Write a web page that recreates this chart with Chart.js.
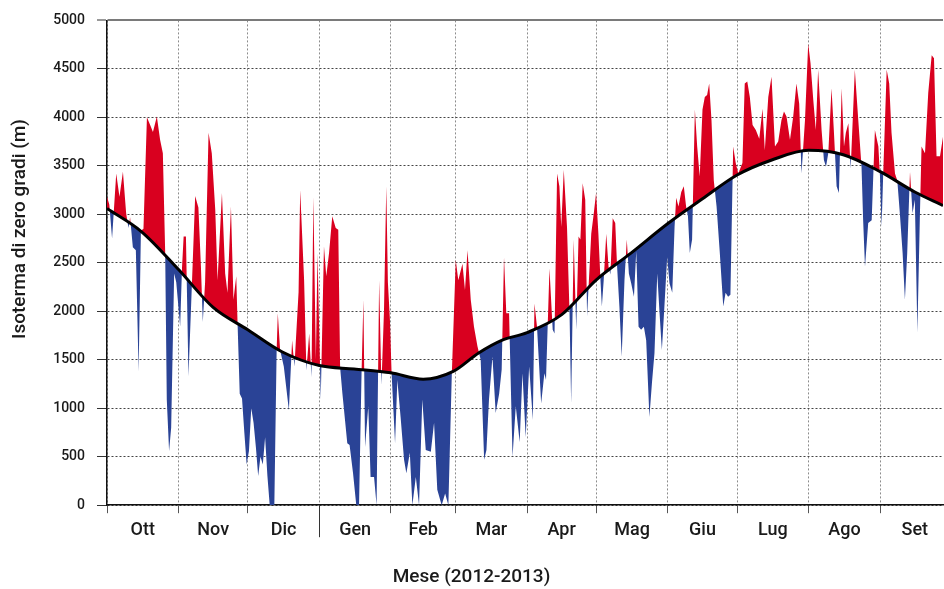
<!DOCTYPE html>
<html>
<head>
<meta charset="utf-8">
<script src="https://cdn.jsdelivr.net/npm/chart.js@4.4.0/dist/chart.umd.min.js"></script>
<style>
html, body { margin: 0; padding: 0; background: #fff; }
</style>
</head>
<body>
<canvas id="myChart" width="944" height="589"></canvas>
<script>
// month ticks (day index from 1 Oct 2012)
const monthLabels = ['Ott', 'Nov', 'Dic', 'Gen', 'Feb', 'Mar', 'Apr', 'Mag', 'Giu', 'Lug', 'Ago', 'Set'];
const monthStart = [0, 31, 61, 92, 123, 151, 182, 212, 243, 273, 304, 335];
const yearEnd = 365;
const yearStart = 92; // 1 Gen 2013
const dayMax = 362.2; // picture is cut before 30 Set

// climatological zero-degree isotherm (black line)
const normDays = [0, 15, 31, 46, 61, 76, 92, 107, 123, 137, 150, 161, 171, 182, 197, 212, 227, 243, 258, 273, 288, 304, 319, 335, 350, 362.2];
const normValues = [3060, 2820, 2430, 2040, 1810, 1580, 1440, 1405, 1365, 1300, 1380, 1570, 1700, 1780, 1965, 2325, 2600, 2905, 3160, 3405, 3560, 3660, 3615, 3440, 3230, 3090];

// daily isotherm 2012-2013
const obsDays = [
  0, 1, 2.2, 3, 4, 5.4, 6.9, 8.3, 9.3, 10, 11.2, 12.5, 13.7, 14.7, 15.8, 17.3, 18.7, 19.9, 21.6, 23, 24.2, 25.2, 25.9, 26.9, 27.8, 29.1, 30,
  31.7, 32.5, 33.2, 34.2, 35.3, 36.8, 38.2, 39.6, 40.7, 41.5, 42.5, 44, 45.4, 46.9, 47.9, 49.8, 51.2, 52.2, 53.7, 54.8, 56, 56.6, 57.5, 58.5, 59.5,
  60.5, 61.5, 62.5, 63.5, 64.5, 65.5, 66.5, 67.5, 68.5, 69.5, 70.5, 71.5, 72.5, 73.5, 74, 75, 76.6, 78.8, 80.2, 81.2, 83, 83.7, 85.4, 86.4, 87.6, 88.6, 89.4, 90.5, 91.2,
  92.6, 94, 95, 96.2, 97.6, 99.1, 100.2, 101, 102, 104.1, 105.1, 106.6, 108, 109.2, 110.3, 111.1, 111.8, 113.2, 114.2, 115.7, 116.8, 117.9, 118.9, 120, 121, 121.7, 122.6,
  123.3, 124.8, 125.8, 127.2, 128.7, 129.7, 131.2, 132.3, 133.8, 135.2, 136.6, 138.1, 140.3, 141.7, 143.1, 145, 146.5, 147.9, 149.4,
  151.1, 152.2, 154, 155.1, 156.2, 157.6, 159, 160.5, 161.9, 163.4, 164.4, 165.5, 167, 168.4, 169.9, 171, 172, 173, 174.2, 175.7, 177.1, 178.8, 180, 181.4,
  182.9, 184.5, 185.2, 186.3, 188.1, 189.5, 190.2, 191.7, 193.1, 193.9, 195, 196, 196.8, 197.9, 199.3, 200.4, 201.1, 202.2, 203.3, 204.3, 205.1, 206.1, 207.2, 208, 209.8, 210.9, 211.9,
  212.9, 213.8, 214.4, 215.2, 216.3, 217.3, 218.1, 219.1, 220.2, 221, 222, 223, 224.2, 225.2, 226.1, 227.1, 228.3, 229.3, 230.3, 231.4, 232.6, 233.6, 235, 236.1, 237.2, 238.4, 239.4, 240.4, 241.5, 242.7,
  243.7, 244.9, 245.9, 246.6, 247.6, 248.8, 249.9, 250.9, 251.7, 252.5, 253.5, 254.7, 255.7, 256.8, 258, 259, 260, 260.9, 261.9, 262.9, 264.1, 265.5, 267, 268, 269.1, 270.1, 271.3, 272.4,
  273.5, 275.3, 276.3, 277.4, 278.5, 279.7, 281.1, 282.6, 284, 285, 286.5, 287.9, 289.4, 290.8, 292.2, 293.3, 294.4, 295.9, 297.3, 298.7, 299.9, 300.9, 302.4, 303.8,
  304.8, 306, 307.1, 308.1, 309.6, 310.6, 311.5, 312.5, 313.9, 314.9, 316.1, 317.1, 318.3, 319.3, 320.1, 321.2, 322.2, 324, 325.5, 326.9, 327.6, 328.4, 329.8, 331.3, 332.7, 334.2, 334.9,
  335.6, 336.3, 337.8, 338.9, 339.9, 341.4, 342.4, 343.5, 344.7, 345.7, 346.7, 347.9, 349, 350, 351.1, 352.2, 352.9, 354.4, 355.8, 357.3, 358.3, 359.4, 360.9, 362.2
];
const obsValues = [
  3180, 3100, 2750, 3050, 3420, 3180, 3440, 3010, 2860, 2970, 2660, 2630, 1380, 2830, 2850, 4000, 3920, 3850, 4010, 3770, 3630, 2620, 1090, 560, 800, 2390, 2300,
  1840, 2450, 2770, 2770, 1330, 2290, 3190, 3070, 2460, 1890, 2300, 3840, 3630, 3050, 2320, 3220, 2390, 2190, 3080, 2120, 2360, 1850, 1150, 1100, 750,
  420, 560, 1000, 850, 600, 300, 500, 420, 700, 300, 0, 0, 0, 1600, 1980, 1600, 1430, 980, 1700, 1430, 2200, 3250, 2320, 1390, 1770, 1320, 3180, 1500, 2600,
  1090, 2670, 2360, 2600, 2980, 2860, 2840, 1420, 1150, 640, 620, 330, 0, 0, 1380, 2120, 600, 1020, 290, 290, 0, 2320, 1240, 2000, 3290, 2300, 1900,
  1360, 640, 1290, 910, 470, 330, 540, 0, 290, 0, 1090, 570, 550, 850, 160, 0, 120, 0, 1360,
  2530, 2320, 2490, 2220, 2630, 2120, 1840, 1640, 1500, 470, 570, 1090, 1530, 950, 1150, 1400, 2560, 1980, 1980, 500, 1020, 650, 1360, 700,
  1430, 880, 2080, 1840, 1050, 1360, 1290, 2440, 1810, 1770, 3420, 3290, 2870, 3460, 2870, 1980, 1050, 2740, 1810, 2770, 2740, 3320, 3150, 1950, 2800, 3010, 3220,
  2800, 2320, 2050, 2320, 2800, 2460, 2380, 2960, 2910, 2460, 2050, 1530, 2320, 2740, 2390, 2290, 2150, 2620, 1840, 1810, 1840, 1700, 910, 1260, 1570, 2390, 1980, 1600, 2050, 2560,
  2290, 2190, 2870, 3170, 3080, 3230, 3290, 3080, 2980, 2600, 2740, 4080, 3700, 3390, 4080, 4210, 4230, 4350, 3970, 3350, 3080, 2600, 2050, 2190, 2150, 2170, 3700, 3530,
  3420, 3530, 4350, 4370, 4210, 3920, 3870, 3780, 4090, 3660, 4210, 4420, 3700, 3750, 3970, 4060, 4010, 3770, 4010, 4350, 4140, 3420, 3970, 4760,
  4560, 4180, 3870, 4490, 3870, 3560, 3490, 3630, 4300, 3870, 3290, 3220, 4300, 3700, 3840, 3940, 3470, 4490, 3970, 3490, 2940, 2460, 2910, 2940, 3870, 3700, 3390,
  2870, 3420, 4490, 4350, 3840, 3420, 3350, 3010, 2600, 2120, 2600, 3440, 3010, 3150, 1780, 3000, 3700, 3630, 4250, 4640, 4610, 3600, 3600, 3800
];

const RED = '#d9001f';
const BLUE = '#2a4396';
const FONT = 'Roboto, "Open Sans", sans-serif';

// label positions: middle of each month
const monthMid = monthStart.map((s, i) => (s + (i < monthStart.length - 1 ? monthStart[i + 1] : yearEnd)) / 2);
const xTicks = monthStart.concat(monthMid).sort((a, b) => a - b);

function isBoundary(v) {
    return monthStart.indexOf(v) >= 0;
}

const extras = { // y title placed like the original, plus the longer year tick
    id: 'extras',
    afterDraw(chart) {
        const ctx = chart.ctx;
        const area = chart.chartArea;
        const xp = Math.round(chart.scales.x.getPixelForValue(yearStart)) + 0.5;
        ctx.save();
        ctx.strokeStyle = '#333';
        ctx.lineWidth = 1;
        ctx.beginPath();
        ctx.moveTo(xp, area.bottom);
        ctx.lineTo(xp, area.bottom + 32);
        ctx.stroke();

        ctx.translate(20, 229);
        ctx.rotate(-Math.PI / 2);
        ctx.font = '500 19px ' + FONT;
        ctx.fillStyle = '#1a1a1a';
        ctx.textAlign = 'center';
        ctx.textBaseline = 'middle';
        ctx.fillText('Isoterma di zero gradi (m)', 0, 0);
        ctx.restore();
    }
};

const CTX = document.getElementById('myChart').getContext('2d');
const myChart = new Chart(CTX, {
    type: 'line',
    data: {
        datasets: [
            {
                label: 'media',
                data: normDays.map((d, i) => ({ x: d, y: normValues[i] })),
                borderColor: '#000',
                borderWidth: 3,
                pointRadius: 0,
                cubicInterpolationMode: 'monotone',
                fill: false
            },
            {
                label: '2012-2013',
                data: obsDays.map((d, i) => ({ x: d, y: obsValues[i] })),
                borderWidth: 0,
                borderColor: 'rgba(0,0,0,0)',
                pointRadius: 0,
                tension: 0,
                fill: { target: 0, above: RED, below: BLUE }
            }
        ]
    },
    options: {
        responsive: false,
        animation: false,
        events: [],
        layout: { padding: { left: 0, right: 1, top: 20, bottom: 0 } },
        plugins: {
            legend: { display: false },
            tooltip: { enabled: false },
            title: {
                display: true,
                position: 'bottom',
                text: 'Mese (2012-2013)',
                color: '#1a1a1a',
                font: { family: FONT, size: 19, weight: '500' },
                padding: { top: 6, bottom: 0 }
            }
        },
        scales: {
            x: {
                type: 'linear',
                min: 0,
                max: dayMax,
                afterBuildTicks: (scale) => { scale.ticks = xTicks.map(v => ({ value: v })); },
                afterFit: (scale) => { scale.height = 55; },
                grid: {
                    color: (c) => (c.tick && isBoundary(c.tick.value)) ? '#8c8c8c' : 'rgba(0,0,0,0)',
                    tickColor: (c) => (c.tick && isBoundary(c.tick.value)) ? '#555' : 'rgba(0,0,0,0)',
                    lineWidth: 1,
                    tickLength: 8
                },
                border: { display: true, color: '#111', width: 1.5, dash: [2, 2] },
                ticks: {
                    autoSkip: false,
                    maxRotation: 0,
                    padding: 6,
                    color: '#1a1a1a',
                    font: { family: FONT, size: 18, weight: '500' },
                    callback: (v) => {
                        const i = monthMid.indexOf(v);
                        return i >= 0 ? monthLabels[i] : '';
                    }
                }
            },
            y: {
                min: 0,
                max: 5000,
                afterFit: (scale) => { scale.width = 107; },
                grid: {
                    color: (c) => (c.tick && c.tick.value === 5000) ? '#7a7a7a' : '#444',
                    lineWidth: (c) => (c.tick && c.tick.value === 5000) ? 2 : 1,
                    tickColor: '#333',
                    tickWidth: 1,
                    tickLength: 10
                },
                border: {
                    display: true,
                    color: '#111',
                    width: 1.5,
                    dash: (c) => (c.tick && c.tick.value === 5000) ? [] : [2, 2]
                },
                ticks: {
                    stepSize: 500,
                    padding: 12,
                    color: '#1a1a1a',
                    font: { family: FONT, size: 14, weight: '500' },
                    callback: (v) => String(v)
                }
            }
        }
    },
    plugins: [extras]
});
</script>
</body>
</html>
